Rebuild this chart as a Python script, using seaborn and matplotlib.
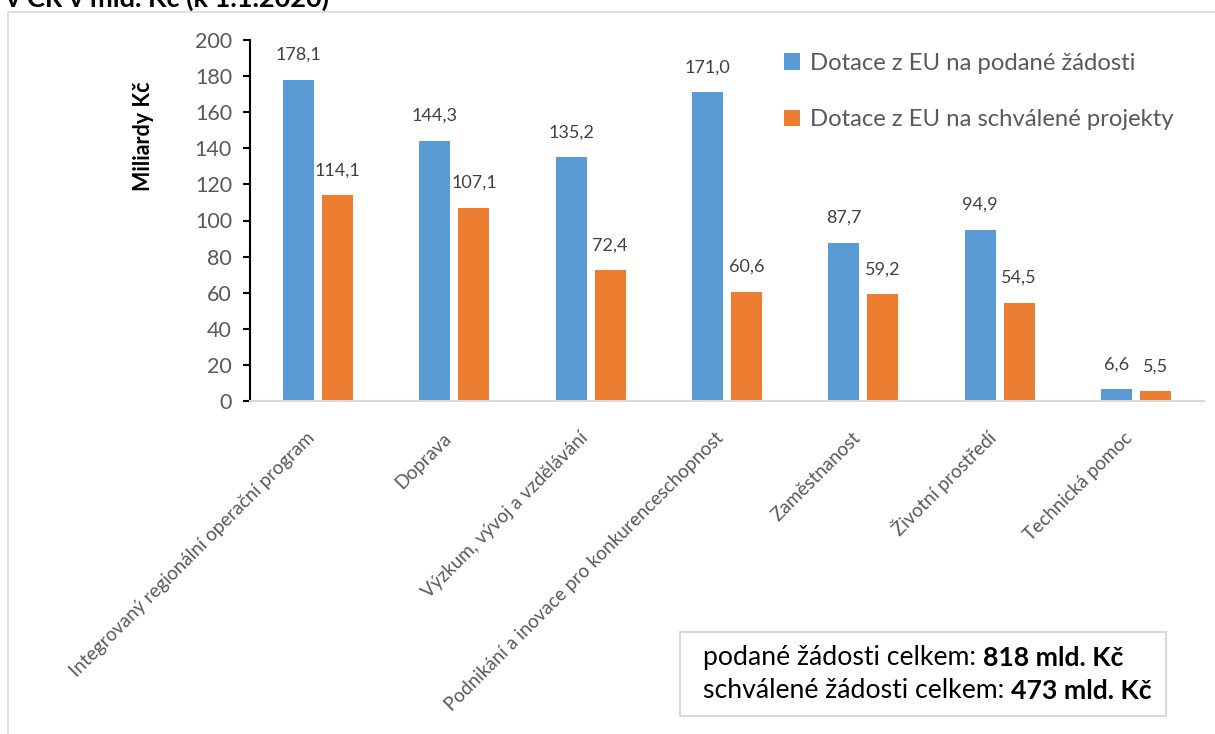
import matplotlib
matplotlib.use("Agg")
import matplotlib.pyplot as plt
import seaborn as sns
import pandas as pd
from matplotlib.patches import Rectangle
from matplotlib.text import Annotation

categories = [
    "Integrovaný regionální operační program",
    "Doprava",
    "Výzkum, vývoj a vzdělávání",
    "Podnikání a inovace pro konkurenceschopnost",
    "Zaměstnanost",
    "Životní prostředí",
    "Technická pomoc",
]
podane = [178.1, 144.3, 135.2, 171.0, 87.7, 94.9, 6.6]
schvalene = [114.1, 107.1, 72.4, 60.6, 59.2, 54.5, 5.5]
series = ["Dotace z EU na podané žádosti", "Dotace z EU na schválené projekty"]
colors = ["#5b9bd5", "#ed7d31"]
yticks = [0, 20, 40, 60, 80, 100, 120, 140, 160, 180, 200]
totals = ["818 mld. Kč", "473 mld. Kč"]

df = pd.DataFrame({
    "kategorie": categories * 2,
    "hodnota": podane + schvalene,
    "serie": [series[0]] * len(categories) + [series[1]] * len(categories),
})

sns.set_style("white")
plt.rcParams["font.family"] = ["Lato", "DejaVu Sans"]

W, H = 1215, 734
fig = plt.figure(figsize=(W / 100, H / 100), dpi=100)
ax = fig.add_axes([250 / W, 1 - 401 / H, (1204 - 250) / W, (401 - 40) / H])

sns.barplot(data=df, x="kategorie", y="hodnota", hue="serie", hue_order=series,
            palette=colors, width=0.572, gap=0.206, saturation=1, ax=ax,
            edgecolor="none", legend=True)

for cont in ax.containers:
    ax.bar_label(cont, labels=[f"{v:.1f}".replace(".", ",") for v in cont.datavalues],
                 padding=12, fontsize=13, color="#404040")

ax.set_ylim(0, 200)
ax.set_xlim(-0.5, len(categories) - 0.5)
ax.set_yticks(yticks)
ax.tick_params(axis="y", length=5, width=1.5, color="black", direction="out",
               labelsize=15.5, labelcolor="#595959", left=True, pad=8)
ax.tick_params(axis="x", length=0, labelcolor="#595959", pad=29)
ax.set_xticks(range(len(categories)))
ax.set_xticklabels(categories, rotation=45, ha="right", va="bottom",
                   rotation_mode="anchor", fontsize=13.6)
ax.set_xlabel("")
ax.set_ylabel("")
sns.despine(ax=ax, top=True, right=True)
ax.spines["left"].set_color("black")
ax.spines["left"].set_linewidth(1.5)
ax.spines["bottom"].set_color("#d9d9d9")
ax.spines["bottom"].set_linewidth(1.5)

fig.text(144 / W, 1 - 136 / H, "Miliardy Kč", rotation=90, ha="center", va="center",
         fontsize=15.5, fontweight="bold", color="black")

ax.legend(loc="upper left", bbox_to_anchor=(762 / W, 1 - 31 / H),
          bbox_transform=fig.transFigure, frameon=False, fontsize=17.2,
          labelcolor="#595959", handlelength=0.7, handleheight=0.7,
          handletextpad=0.4, labelspacing=1.5)

# outer chart frame
fig.patches.append(Rectangle((8 / W, -0.1), 1.2, 1.1 - 12 / H, transform=fig.transFigure,
                             fill=False, edgecolor="#d9d9d9", linewidth=1.2))
# title of the chart, cut off by the top edge as in the source
fig.text(6 / W, 1 - 7 / H, "v ČR v mld. Kč (k 1.1.2020)", ha="left", va="baseline",
         fontsize=19.5, fontweight="bold", color="black")

# summary box
fig.patches.append(Rectangle((680 / W, 1 - 716 / H), 486 / W, 84 / H, transform=fig.transFigure,
                             facecolor="white", edgecolor="#d9d9d9", linewidth=1.5))
for i, (txt, tot) in enumerate(zip(["podané žádosti celkem: ", "schválené žádosti celkem: "], totals)):
    t = fig.text(703 / W, 1 - (665 + 33 * i) / H, txt, fontsize=19.2, color="black",
                 va="baseline")
    fig.add_artist(Annotation(tot, xy=(1, 0), xycoords=t, fontsize=19.2, fontweight="bold",
                              color="black", va="bottom", ha="left", zorder=5))

fig.savefig("out.png", dpi=100)
